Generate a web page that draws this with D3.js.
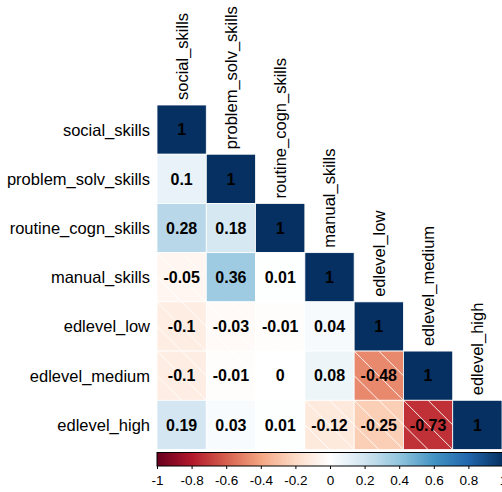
<!DOCTYPE html>
<html>
<head>
<meta charset="utf-8">
<script src="https://cdn.jsdelivr.net/npm/d3@7"></script>
<style>
  body { margin: 0; background: #fff; }
  svg { font-family: Arial, "Liberation Sans", sans-serif; }
</style>
</head>
<body>
<div id="chart"></div>
<script>
// variables, in the order corrplot drew them
const vars = ["social_skills", "problem_solv_skills", "routine_cogn_skills",
  "manual_skills", "edlevel_low", "edlevel_medium", "edlevel_high"];

// lower triangle of the correlation matrix, row by row
const corrRows = [
  [1],
  [0.1, 1],
  [0.28, 0.18, 1],
  [-0.05, 0.36, 0.01, 1],
  [-0.1, -0.03, -0.01, 0.04, 1],
  [-0.1, -0.01, 0, 0.08, -0.48, 1],
  [0.19, 0.03, 0.01, -0.12, -0.25, -0.73, 1]
];

const legendTicks = [-1, -0.8, -0.6, -0.4, -0.2, 0, 0.2, 0.4, 0.6, 0.8, 1];

// corrplot's COL2("RdBu") palette
const palette = ["#67001F", "#B2182B", "#D6604D", "#F4A582", "#FDDBC7", "#FFFFFF",
  "#D1E5F0", "#92C5DE", "#4393C3", "#2166AC", "#053061"];

const W = 502, H = 492;
const svg = d3.select("#chart").append("svg")
  .attr("width", W).attr("height", H);

const color = d3.scaleLinear()
  .domain(d3.range(palette.length).map(i => -1 + 2 * i / (palette.length - 1)))
  .range(palette)
  .interpolate(d3.interpolateRgb);

const x = d3.scaleBand().domain(vars).range([157, 502]);
const y = d3.scaleBand().domain(vars).range([105, 449.5]);

// flatten triangle into cells
const cells = [];
corrRows.forEach((row, i) => {
  row.forEach((v, j) => cells.push({ r: vars[i], c: vars[j], v: v }));
});

svg.append("defs").selectAll("clipPath")
  .data(cells.filter(d => d.v < 0))
  .enter().append("clipPath")
  .attr("id", (d, i) => "clip" + i)
  .append("rect")
  .attr("x", d => x(d.c)).attr("y", d => y(d.r))
  .attr("width", x.bandwidth()).attr("height", y.bandwidth());

svg.append("g").selectAll("rect")
  .data(cells)
  .enter().append("rect")
  .attr("x", d => x(d.c)).attr("y", d => y(d.r))
  .attr("width", x.bandwidth()).attr("height", y.bandwidth())
  .attr("fill", d => color(d.v))
  .attr("stroke", "#fff").attr("stroke-width", 0.8);

// shading lines on negative cells
const bw = x.bandwidth(), bh = y.bandwidth();
svg.append("g").selectAll("g")
  .data(cells.filter(d => d.v < 0))
  .enter().append("g")
  .attr("clip-path", (d, i) => `url(#clip${i})`)
  .each(function (d) {
    const x0 = x(d.c), y0 = y(d.r);
    [-0.5, 0, 0.5].forEach(o => {
      d3.select(this).append("line")
        .attr("x1", x0 + o * bw).attr("y1", y0)
        .attr("x2", x0 + o * bw + bw).attr("y2", y0 + bh)
        .attr("stroke", "#fff").attr("stroke-width", 0.9);
    });
  });

// coefficient labels
svg.append("g").selectAll("text")
  .data(cells)
  .enter().append("text")
  .attr("x", d => x(d.c) + bw / 2)
  .attr("y", d => y(d.r) + bh / 2)
  .attr("dy", "0.36em")
  .attr("text-anchor", "middle")
  .attr("font-size", 16).attr("font-weight", "bold")
  .attr("fill", "#000")
  .text(d => String(d.v));

// row labels
svg.append("g").selectAll("text")
  .data(vars)
  .enter().append("text")
  .attr("x", 150)
  .attr("y", d => y(d) + bh / 2)
  .attr("dy", "0.36em")
  .attr("text-anchor", "end")
  .attr("font-size", 16.5).attr("fill", "#000")
  .text(d => d);

// column labels, standing on the diagonal
svg.append("g").selectAll("text")
  .data(vars)
  .enter().append("text")
  .attr("transform", d => `translate(${x(d) + bw / 2},${y(d) - 5}) rotate(-90)`)
  .attr("dy", "0.36em")
  .attr("text-anchor", "start")
  .attr("font-size", 16.5).attr("fill", "#000")
  .text(d => d);

// color legend
const lx = d3.scaleLinear().domain([-1, 1]).range([157, 503]);
const grad = svg.select("defs").append("linearGradient")
  .attr("id", "cbar").attr("x1", "0%").attr("x2", "100%");
palette.forEach((c, i) => {
  grad.append("stop").attr("offset", (100 * i / (palette.length - 1)) + "%").attr("stop-color", c);
});
svg.append("rect")
  .attr("x", lx(-1)).attr("y", 452.5)
  .attr("width", lx(1) - lx(-1)).attr("height", 13.5)
  .attr("fill", "url(#cbar)")
  .attr("stroke", "#000").attr("stroke-width", 1);

const axis = svg.append("g")
  .attr("transform", "translate(0,466)")
  .call(d3.axisBottom(lx).tickValues(legendTicks).tickSize(3)
    .tickFormat(d => String(+d.toFixed(1))));
axis.select(".domain").remove();
axis.selectAll("line").attr("stroke", "#000");
axis.selectAll("text")
  .attr("font-size", 13.5).attr("fill", "#000")
  .attr("font-family", "Arial, 'Liberation Sans', sans-serif")
  .attr("y", 9);
</script>
</body>
</html>
